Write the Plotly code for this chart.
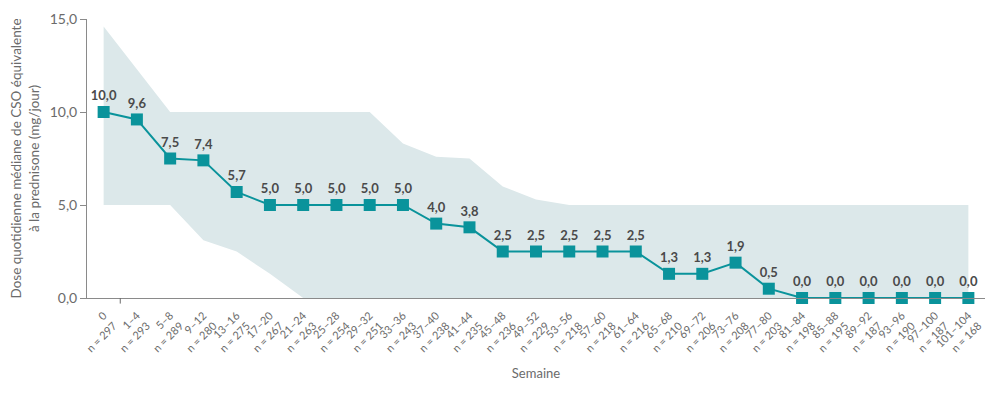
import plotly.graph_objects as go

weeks = ["0", "1–4", "5–8", "9–12", "13–16", "17–20", "21–24", "25–28", "29–32", "33–36",
         "37–40", "41–44", "45–48", "49–52", "53–56", "57–60", "61–64", "65–68", "69–72",
         "73–76", "77–80", "81–84", "85–88", "89–92", "93–96", "97–100", "101–104"]
n_patients = [297, 293, 289, 280, 275, 267, 263, 254, 251, 243, 238, 235, 236, 229, 218,
              218, 216, 210, 206, 208, 203, 198, 195, 187, 190, 187, 168]
median_dose = [10.0, 9.6, 7.5, 7.4, 5.7, 5.0, 5.0, 5.0, 5.0, 5.0, 4.0, 3.8, 2.5, 2.5, 2.5,
               2.5, 2.5, 1.3, 1.3, 1.9, 0.5, 0.0, 0.0, 0.0, 0.0, 0.0, 0.0]
upper_band = [14.6, 12.3, 10.0, 10.0, 10.0, 10.0, 10.0, 10.0, 10.0, 8.3, 7.6, 7.5, 6.0, 5.3,
              5.0, 5.0, 5.0, 5.0, 5.0, 5.0, 5.0, 5.0, 5.0, 5.0, 5.0, 5.0, 5.0]
lower_band = [5.0, 5.0, 5.0, 3.1, 2.5, 1.3, 0.0, 0.0, 0.0, 0.0, 0.0, 0.0, 0.0, 0.0, 0.0,
              0.0, 0.0, 0.0, 0.0, 0.0, 0.0, 0.0, 0.0, 0.0, 0.0, 0.0, 0.0]
y_ticks = [0, 5, 10, 15]

cats = [f"{w}<br>n = {n}" for w, n in zip(weeks, n_patients)]
labels = [f"{v:.1f}".replace(".", ",") for v in median_dose]

TEAL = "#0a939b"
BAND = "#dce8ea"
GREY = "#6b6b6b"
FONT = "Lato, Noto Sans, sans-serif"

fig = go.Figure()
fig.add_trace(go.Scatter(x=cats, y=lower_band, mode="lines", line=dict(width=0),
                         hoverinfo="skip", showlegend=False))
fig.add_trace(go.Scatter(x=cats, y=upper_band, mode="lines", line=dict(width=0),
                         fill="tonexty", fillcolor=BAND, hoverinfo="skip", showlegend=False))
fig.add_trace(go.Scatter(x=cats, y=median_dose, mode="lines+markers+text",
                         line=dict(color=TEAL, width=2),
                         marker=dict(symbol="square", size=12, color=TEAL),
                         text=labels, textposition="top center",
                         textfont=dict(family=FONT, size=13, color="#4a4a4a", weight="bold"),
                         cliponaxis=False, showlegend=False))

fig.add_shape(type="line", xref="x", yref="paper", x0=0.5, x1=0.5, y0=0, y1=-0.02,
              line=dict(color=GREY, width=1))

fig.update_layout(
    width=1000, height=394,
    margin=dict(l=79, r=23, t=11, b=104),
    plot_bgcolor="white", paper_bgcolor="white",
    separators=",.",
    font=dict(family=FONT, color=GREY, size=11),
    xaxis=dict(type="category", range=[-0.5, 26.5], tickangle=-45, showgrid=False,
               automargin=False, ticklabelstandoff=6,
               showline=True, linecolor="#8a8a8a", linewidth=1, ticks="",
               tickfont=dict(size=11, color=GREY),
               title=dict(text="Semaine", font=dict(size=13, color=GREY), standoff=10)),
    yaxis=dict(range=[0, 15], tickvals=y_ticks, tickformat=".1f", showgrid=False,
               automargin=False,
               zeroline=False, showline=True, linecolor="#8a8a8a", linewidth=1,
               ticks="outside", ticklen=6, tickcolor="#8a8a8a",
               tickfont=dict(size=14, color=GREY),
               title=dict(text="Dose quotidienne médiane de CSO équivalente<br>à la prednisone (mg/jour)",
                          font=dict(size=13.5, color=GREY), standoff=8)),
)

fig.write_html("out.html")
